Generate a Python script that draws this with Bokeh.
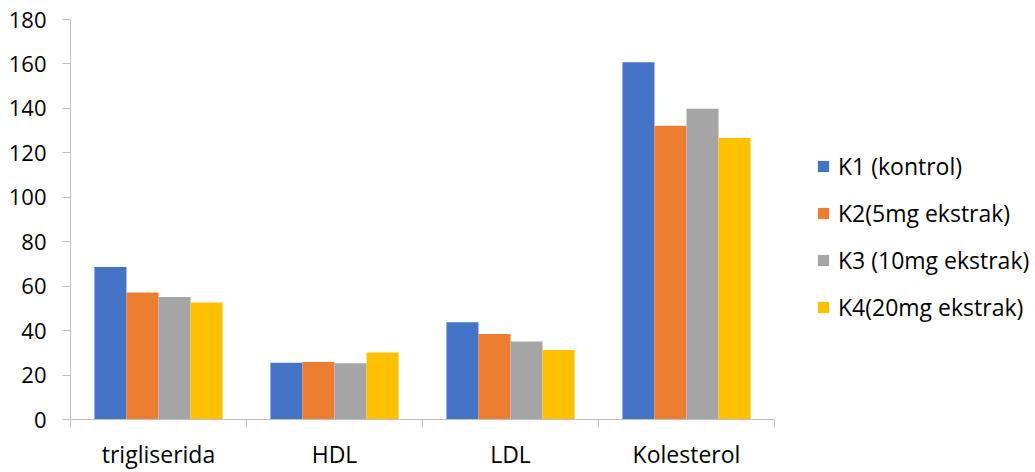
from bokeh.plotting import figure
from bokeh.models import (ColumnDataSource, Range1d, FixedTicker, Legend, LegendItem)
from bokeh.transform import dodge
from bokeh.embed import file_html
from bokeh.resources import INLINE

categories = ["trigliserida", "HDL", "LDL", "Kolesterol"]
series_names = ["K1 (kontrol)", "K2(5mg ekstrak)", "K3 (10mg ekstrak)", "K4(20mg ekstrak)"]
k1 = [68.6, 25.5, 43.8, 160.8]
k2 = [57.2, 25.9, 38.5, 132.2]
k3 = [55.1, 25.3, 35.1, 139.8]
k4 = [52.6, 30.2, 31.3, 126.7]
colors = ["#4472C4", "#ED7D31", "#A5A5A5", "#FFC000"]
y_ticks = [0, 20, 40, 60, 80, 100, 120, 140, 160, 180]

FONT = "Open Sans"
n = len(categories)
xi = [i + 0.5 for i in range(n)]
src = ColumnDataSource(dict(x=xi, k1=k1, k2=k2, k3=k3, k4=k4))

# frame spans 70..1035 px; the category area is 704 px of it (176 px per category)
x_end = n * 965 / 704
p = figure(width=1035, height=472, output_backend="svg", toolbar_location=None,
           x_range=Range1d(0, x_end), y_range=Range1d(0, 180),
           min_border_left=70, min_border_right=0, min_border_top=19, min_border_bottom=50)
p.outline_line_color = None
p.xgrid.visible = False
p.ygrid.visible = False
p.background_fill_color = "white"
p.border_fill_color = "white"

bw = 0.182
offsets = [-0.273, -0.091, 0.091, 0.273]
renderers = []
for key, off, c in zip(["k1", "k2", "k3", "k4"], offsets, colors):
    r = p.vbar(x=dodge("x", off, range=p.x_range), top=key, width=bw, source=src,
               fill_color=c, line_color=None)
    renderers.append(r)

axis_color = "#BFBFBF"
# y axis
p.yaxis.ticker = FixedTicker(ticks=y_ticks)
p.yaxis.axis_line_color = axis_color
p.yaxis.major_tick_line_color = axis_color
p.yaxis.major_tick_out = 8
p.yaxis.major_tick_in = 0
p.yaxis.minor_tick_line_color = None
p.yaxis.major_label_text_font = FONT
p.yaxis.major_label_text_font_size = "22px"
p.yaxis.major_label_text_color = "black"
p.yaxis.major_label_standoff = 16

# x axis
p.xaxis.bounds = (0, n)
p.xaxis.ticker = FixedTicker(ticks=xi, minor_ticks=list(range(n + 1)))
p.xaxis.major_label_overrides = {v: c for v, c in zip(xi, categories)}
p.xaxis.axis_line_color = axis_color
p.xaxis.major_tick_line_color = None
p.xaxis.major_tick_out = 0
p.xaxis.major_tick_in = 0
p.xaxis.minor_tick_line_color = axis_color
p.xaxis.minor_tick_out = 8
p.xaxis.minor_tick_in = 0
p.xaxis.major_label_text_font = FONT
p.xaxis.major_label_text_font_size = "23px"
p.xaxis.major_label_text_color = "black"
p.xaxis.major_label_standoff = 10

legend = Legend(items=[LegendItem(label=s, renderers=[r]) for s, r in zip(series_names, renderers)],
                location=(746, 96), orientation="vertical",
                glyph_width=14, glyph_height=14, label_height=28, spacing=15,
                padding=0, margin=0, label_standoff=8,
                border_line_color=None, background_fill_alpha=0,
                label_text_font=FONT, label_text_font_size="23px", label_text_color="black")
p.add_layout(legend)

open("out.html", "w").write(file_html(p, INLINE))
